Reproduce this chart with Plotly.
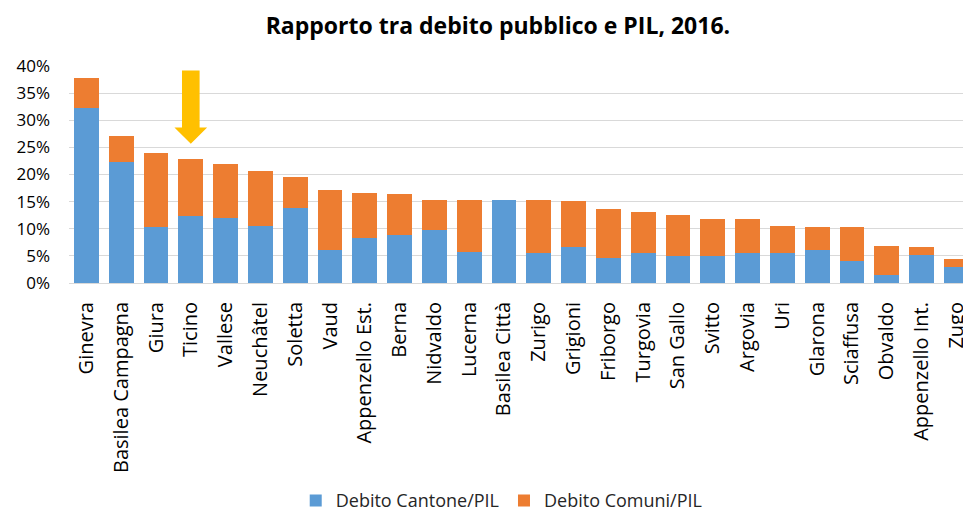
import plotly.graph_objects as go

# Public debt / GDP by canton, 2016 (percent)
cantoni = [
    "Ginevra", "Basilea Campagna", "Giura", "Ticino", "Vallese", "Neuchâtel",
    "Soletta", "Vaud", "Appenzello Est.", "Berna", "Nidvaldo", "Lucerna",
    "Basilea Città", "Zurigo", "Grigioni", "Friborgo", "Turgovia", "San Gallo",
    "Svitto", "Argovia", "Uri", "Glarona", "Sciaffusa", "Obvaldo",
    "Appenzello Int.", "Zugo",
]
debito_cantone = [
    32.2, 22.3, 10.4, 12.3, 12.0, 10.5, 13.8, 6.0, 8.3, 8.8, 9.8, 5.8,
    15.3, 5.5, 6.6, 4.7, 5.6, 5.0, 5.0, 5.6, 5.6, 6.0, 4.1, 1.4, 5.2, 2.9,
]
debito_totale = [
    37.7, 27.1, 24.0, 22.9, 21.9, 20.6, 19.6, 17.1, 16.6, 16.4, 15.3, 15.3,
    15.3, 15.3, 15.1, 13.7, 13.0, 12.6, 11.8, 11.8, 10.6, 10.3, 10.3, 6.9,
    6.7, 4.4,
]
debito_comuni = [round(t - c, 2) for t, c in zip(debito_totale, debito_cantone)]
y_ticks = [0, 5, 10, 15, 20, 25, 30, 35, 40]

BLUE = "#5B9BD5"
ORANGE = "#ED7D31"
GOLD = "#FFC000"
GRID = "#D9D9D9"
FONT = "Open Sans"

idx = list(range(len(cantoni)))

fig = go.Figure()
fig.add_trace(go.Bar(x=idx, y=debito_cantone, name="Debito Cantone/PIL",
                     marker=dict(color=BLUE, line=dict(width=0))))
fig.add_trace(go.Bar(x=idx, y=debito_comuni, name="Debito Comuni/PIL",
                     marker=dict(color=ORANGE, line=dict(width=0))))

# Downward arrow pointing at Ticino
i_t = cantoni.index("Ticino")
tip = debito_totale[i_t] + 2.75
head_top = tip + 3.0
shaft_top = tip + 13.5
hs, hh = 0.253, 0.47
path = (f"M {i_t - hs} {shaft_top} L {i_t + hs} {shaft_top} L {i_t + hs} {head_top} "
        f"L {i_t + hh} {head_top} L {i_t} {tip} L {i_t - hh} {head_top} "
        f"L {i_t - hs} {head_top} Z")
fig.add_shape(type="path", path=path, xref="x", yref="y",
              fillcolor=GOLD, line=dict(width=0), layer="above")

fig.update_layout(
    width=963, height=513,
    barmode="stack", bargap=0.29,
    paper_bgcolor="white", plot_bgcolor="white",
    margin=dict(l=69, r=0, t=66, b=230, autoexpand=False),
    font=dict(family=FONT, color="#000000"),
    title=dict(text="<b>Rapporto tra debito pubblico e PIL, 2016.</b>",
               x=0.517, xref="container", xanchor="center",
               y=0.95, yref="container", yanchor="middle",
               font=dict(size=23, family=FONT, color="#000000")),
    showlegend=True,
    legend=dict(orientation="h", x=0.521, xanchor="center", xref="container",
                y=0.024, yref="container", yanchor="middle",
                font=dict(size=18, family=FONT, color="#262626"),
                traceorder="normal", itemwidth=30),
    xaxis=dict(range=[-0.5, 25.19], tickmode="array", tickvals=idx,
               ticktext=cantoni, tickangle=-90, showgrid=False,
               zeroline=False, showline=False, ticks="",
               automargin=False,
               ticklabelstandoff=14, ticklabeloverflow="allow",
               tickfont=dict(size=20, family=FONT, color="#000000")),
    yaxis=dict(range=[0, 40], tickmode="array", tickvals=y_ticks,
               ticktext=[f"{v}%" for v in y_ticks], showgrid=True,
               gridcolor=GRID, gridwidth=1, zeroline=True,
               zerolinecolor=GRID, zerolinewidth=1, showline=False,
               ticks="", ticklabelstandoff=18, automargin=False,
               tickfont=dict(size=17, family=FONT, color="#000000")),
)

fig.write_html("out.html")
